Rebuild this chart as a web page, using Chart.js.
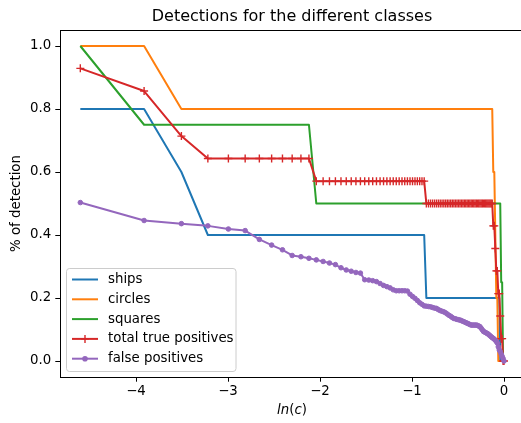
<!DOCTYPE html>
<html>
<head>
<meta charset="utf-8">
<script src="https://cdn.jsdelivr.net/npm/chart.js@4.4.1/dist/chart.umd.min.js"></script>
<style>
  html, body { margin: 0; padding: 0; overflow: hidden; background: #fff; }
  canvas { display: block; }
</style>
</head>
<body>
<canvas id="detChart" width="521" height="423"></canvas>
<script>
// threshold c, plotted as ln(c)
const cValues = [
  0.01, 0.02, 0.03, 0.04, 0.05, 0.06, 0.07, 0.08, 0.09, 0.10,
  0.11, 0.12, 0.13, 0.14, 0.15, 0.16, 0.17, 0.18, 0.19, 0.20,
  0.21, 0.22, 0.23, 0.24, 0.25, 0.26, 0.27, 0.28, 0.29, 0.30,
  0.31, 0.32, 0.33, 0.34, 0.35, 0.36, 0.37, 0.38, 0.39, 0.40,
  0.41, 0.42, 0.43, 0.44, 0.45, 0.46, 0.47, 0.48, 0.49, 0.50,
  0.51, 0.52, 0.53, 0.54, 0.55, 0.56, 0.57, 0.58, 0.59, 0.60,
  0.61, 0.62, 0.63, 0.64, 0.65, 0.66, 0.67, 0.68, 0.69, 0.70,
  0.71, 0.72, 0.73, 0.74, 0.75, 0.76, 0.77, 0.78, 0.79, 0.80,
  0.81, 0.82, 0.83, 0.84, 0.85, 0.86, 0.87, 0.88, 0.89, 0.90,
  0.91, 0.92, 0.93, 0.94, 0.95, 0.96, 0.97, 0.98, 0.99, 1.00
];

const ships = [
  0.8, 0.8, 0.6, 0.4, 0.4, 0.4, 0.4, 0.4, 0.4, 0.4,
  0.4, 0.4, 0.4, 0.4, 0.4, 0.4, 0.4, 0.4, 0.4, 0.4,
  0.4, 0.4, 0.4, 0.4, 0.4, 0.4, 0.4, 0.4, 0.4, 0.4,
  0.4, 0.4, 0.4, 0.4, 0.4, 0.4, 0.4, 0.4, 0.4, 0.4,
  0.4, 0.4, 0.2, 0.2, 0.2, 0.2, 0.2, 0.2, 0.2, 0.2,
  0.2, 0.2, 0.2, 0.2, 0.2, 0.2, 0.2, 0.2, 0.2, 0.2,
  0.2, 0.2, 0.2, 0.2, 0.2, 0.2, 0.2, 0.2, 0.2, 0.2,
  0.2, 0.2, 0.2, 0.2, 0.2, 0.2, 0.2, 0.2, 0.2, 0.2,
  0.2, 0.2, 0.2, 0.2, 0.2, 0.2, 0.2, 0.2, 0.2, 0.2,
  0.2, 0.2, 0.2, 0.2, 0.2, 0.0, 0.0, 0.0, 0.0, 0.0
];

const circles = [
  1.0, 1.0, 0.8, 0.8, 0.8, 0.8, 0.8, 0.8, 0.8, 0.8,
  0.8, 0.8, 0.8, 0.8, 0.8, 0.8, 0.8, 0.8, 0.8, 0.8,
  0.8, 0.8, 0.8, 0.8, 0.8, 0.8, 0.8, 0.8, 0.8, 0.8,
  0.8, 0.8, 0.8, 0.8, 0.8, 0.8, 0.8, 0.8, 0.8, 0.8,
  0.8, 0.8, 0.8, 0.8, 0.8, 0.8, 0.8, 0.8, 0.8, 0.8,
  0.8, 0.8, 0.8, 0.8, 0.8, 0.8, 0.8, 0.8, 0.8, 0.8,
  0.8, 0.8, 0.8, 0.8, 0.8, 0.8, 0.8, 0.8, 0.8, 0.8,
  0.8, 0.8, 0.8, 0.8, 0.8, 0.8, 0.8, 0.8, 0.8, 0.8,
  0.8, 0.8, 0.8, 0.8, 0.8, 0.8, 0.8, 0.8, 0.6, 0.6,
  0.4, 0.2, 0.2, 0.0, 0.0, 0.0, 0.0, 0.0, 0.0, 0.0
];

const squares = [
  1.0, 0.75, 0.75, 0.75, 0.75, 0.75, 0.75, 0.75, 0.75, 0.75,
  0.75, 0.75, 0.5, 0.5, 0.5, 0.5, 0.5, 0.5, 0.5, 0.5,
  0.5, 0.5, 0.5, 0.5, 0.5, 0.5, 0.5, 0.5, 0.5, 0.5,
  0.5, 0.5, 0.5, 0.5, 0.5, 0.5, 0.5, 0.5, 0.5, 0.5,
  0.5, 0.5, 0.5, 0.5, 0.5, 0.5, 0.5, 0.5, 0.5, 0.5,
  0.5, 0.5, 0.5, 0.5, 0.5, 0.5, 0.5, 0.5, 0.5, 0.5,
  0.5, 0.5, 0.5, 0.5, 0.5, 0.5, 0.5, 0.5, 0.5, 0.5,
  0.5, 0.5, 0.5, 0.5, 0.5, 0.5, 0.5, 0.5, 0.5, 0.5,
  0.5, 0.5, 0.5, 0.5, 0.5, 0.5, 0.5, 0.5, 0.5, 0.5,
  0.5, 0.5, 0.5, 0.5, 0.5, 0.5, 0.25, 0.25, 0.0, 0.0
];

const totalTruePositives = [
  0.929, 0.857, 0.714, 0.643, 0.643, 0.643, 0.643, 0.643, 0.643, 0.643,
  0.643, 0.643, 0.571, 0.571, 0.571, 0.571, 0.571, 0.571, 0.571, 0.571,
  0.571, 0.571, 0.571, 0.571, 0.571, 0.571, 0.571, 0.571, 0.571, 0.571,
  0.571, 0.571, 0.571, 0.571, 0.571, 0.571, 0.571, 0.571, 0.571, 0.571,
  0.571, 0.571, 0.5, 0.5, 0.5, 0.5, 0.5, 0.5, 0.5, 0.5,
  0.5, 0.5, 0.5, 0.5, 0.5, 0.5, 0.5, 0.5, 0.5, 0.5,
  0.5, 0.5, 0.5, 0.5, 0.5, 0.5, 0.5, 0.5, 0.5, 0.5,
  0.5, 0.5, 0.5, 0.5, 0.5, 0.5, 0.5, 0.5, 0.5, 0.5,
  0.5, 0.5, 0.5, 0.5, 0.5, 0.5, 0.5, 0.5, 0.429, 0.429,
  0.357, 0.286, 0.286, 0.214, 0.214, 0.143, 0.071, 0.071, 0.0, 0.0
];

const falsePositives = [
  0.503, 0.446, 0.436, 0.429, 0.419, 0.414, 0.386, 0.368, 0.353, 0.335,
  0.331, 0.326, 0.321, 0.316, 0.311, 0.306, 0.296, 0.289, 0.285, 0.281,
  0.279, 0.258, 0.257, 0.255, 0.252, 0.246, 0.240, 0.236, 0.232, 0.226,
  0.223, 0.223, 0.223, 0.223, 0.222, 0.212, 0.205, 0.199, 0.192, 0.185,
  0.180, 0.175, 0.174, 0.173, 0.172, 0.170, 0.168, 0.167, 0.163, 0.160,
  0.158, 0.156, 0.153, 0.149, 0.145, 0.142, 0.138, 0.135, 0.134, 0.132,
  0.131, 0.130, 0.128, 0.126, 0.124, 0.122, 0.120, 0.118, 0.116, 0.114,
  0.114, 0.114, 0.114, 0.114, 0.113, 0.111, 0.109, 0.104, 0.099, 0.094,
  0.092, 0.090, 0.088, 0.086, 0.083, 0.080, 0.077, 0.074, 0.072, 0.069,
  0.066, 0.062, 0.057, 0.045, 0.035, 0.030, 0.022, 0.015, 0.008, 0.000
];

const xTicks = [-4, -3, -2, -1, 0];
const yTicks = [0.0, 0.2, 0.4, 0.6, 0.8, 1.0];
const seriesNames = ['ships', 'circles', 'squares', 'total true positives', 'false positives'];
const seriesColors = ['#1f77b4', '#ff7f0e', '#2ca02c', '#d62728', '#9467bd'];

const FONT = '"DejaVu Sans"';
const FS = 13.33;
Chart.defaults.font.family = FONT;
Chart.defaults.color = '#000';

const lnC = cValues.map(c => Math.log(c));
const toPoints = vals => vals.map((v, i) => ({ x: lnC[i], y: v }));

const minus = v => (v < 0 ? '\u2212' + Math.abs(v) : String(v));

// title, axis labels, top spine and the legend box
const decorations = {
  id: 'decorations',
  afterDraw(chart) {
    const { ctx, chartArea: a } = chart;
    ctx.save();

    // spines run off the right edge like in the cropped original
    ctx.strokeStyle = '#000';
    ctx.lineWidth = 1;
    ctx.beginPath();
    ctx.moveTo(a.left, Math.floor(a.top) + 0.5);
    ctx.lineTo(521, Math.floor(a.top) + 0.5);
    ctx.moveTo(a.right - 1, Math.floor(a.bottom) + 0.5);
    ctx.lineTo(521, Math.floor(a.bottom) + 0.5);
    ctx.stroke();

    const cx = 292;
    ctx.fillStyle = '#000';
    ctx.textBaseline = 'middle';
    ctx.textAlign = 'center';
    ctx.font = '16px ' + FONT;
    ctx.fillText('Detections for the different classes', cx, 17);

    ctx.font = FS + 'px ' + FONT;
    ctx.save();
    ctx.translate(17, 203.5);
    ctx.rotate(-Math.PI / 2);
    ctx.fillText('% of detection', 0, 0);
    ctx.restore();

    // ln(c) in mathtext style
    const parts = [['ln', true], ['(', false], ['c', true], [')', false]];
    let w = 0;
    parts.forEach(p => {
      ctx.font = (p[1] ? 'italic ' : '') + FS + 'px ' + FONT;
      w += ctx.measureText(p[0]).width;
    });
    let x = cx - w / 2;
    ctx.textAlign = 'left';
    parts.forEach(p => {
      ctx.font = (p[1] ? 'italic ' : '') + FS + 'px ' + FONT;
      ctx.fillText(p[0], x, 411);
      x += ctx.measureText(p[0]).width;
    });

    // legend
    const bx = 66.5, by = 268.5, bw = 169.5, bh = 103, r = 3;
    ctx.beginPath();
    ctx.moveTo(bx + r, by);
    ctx.arcTo(bx + bw, by, bx + bw, by + bh, r);
    ctx.arcTo(bx + bw, by + bh, bx, by + bh, r);
    ctx.arcTo(bx, by + bh, bx, by, r);
    ctx.arcTo(bx, by, bx + bw, by, r);
    ctx.closePath();
    ctx.fillStyle = 'rgba(255,255,255,0.8)';
    ctx.fill();
    ctx.strokeStyle = '#cccccc';
    ctx.lineWidth = 1;
    ctx.stroke();

    ctx.font = FS + 'px ' + FONT;
    seriesNames.forEach((name, i) => {
      const y = 279.5 + i * 19.8;
      ctx.strokeStyle = seriesColors[i];
      ctx.lineWidth = 2;
      ctx.beginPath();
      ctx.moveTo(72, y);
      ctx.lineTo(98, y);
      ctx.stroke();
      if (i === 3) {
        ctx.lineWidth = 1.4;
        ctx.beginPath();
        ctx.moveTo(85, y - 4); ctx.lineTo(85, y + 4);
        ctx.moveTo(81, y); ctx.lineTo(89, y);
        ctx.stroke();
      }
      if (i === 4) {
        ctx.fillStyle = seriesColors[i];
        ctx.beginPath();
        ctx.arc(85, y, 2.8, 0, Math.PI * 2);
        ctx.fill();
      }
      ctx.fillStyle = '#000';
      ctx.fillText(name, 108, y);
    });

    ctx.restore();
  }
};

const lineSet = (i, vals, extra) => Object.assign({
  label: seriesNames[i],
  data: toPoints(vals),
  borderColor: seriesColors[i],
  backgroundColor: seriesColors[i],
  borderWidth: 2,
  borderJoinStyle: 'round',
  pointRadius: 0,
  pointHoverRadius: 0,
  order: 5 - i
}, extra || {});

const chart = new Chart(document.getElementById('detChart'), {
  type: 'line',
  data: {
    datasets: [
      lineSet(0, ships),
      lineSet(1, circles),
      lineSet(2, squares),
      lineSet(3, totalTruePositives, {
        pointStyle: 'cross', pointRadius: 4, pointBorderWidth: 1.4,
        pointBorderColor: seriesColors[3]
      }),
      lineSet(4, falsePositives, {
        pointStyle: 'circle', pointRadius: 2.3, pointBorderWidth: 1,
        pointBorderColor: seriesColors[4], pointBackgroundColor: seriesColors[4]
      })
    ]
  },
  options: {
    responsive: false,
    animation: false,
    devicePixelRatio: 1,
    layout: { padding: { top: 30, right: 0, left: 0, bottom: 0 } },
    plugins: {
      legend: { display: false },
      tooltip: { enabled: false },
      title: { display: false }
    },
    scales: {
      x: {
        type: 'linear',
        min: -4.835,
        max: 0.1848,
        afterBuildTicks: s => { s.ticks = xTicks.map(v => ({ value: v })); },
        afterFit: s => { s.height = 46; },
        grid: { display: true, drawOnChartArea: false, tickLength: 4.7, color: '#000', tickWidth: 1 },
        border: { display: true, color: '#000', width: 1 },
        ticks: { font: { size: FS }, color: '#000', padding: 2, maxRotation: 0, callback: v => minus(v) }
      },
      y: {
        min: -0.05,
        max: 1.05,
        afterBuildTicks: s => { s.ticks = yTicks.map(v => ({ value: v })); },
        afterFit: s => { s.width = 60; },
        grid: { display: true, drawOnChartArea: false, tickLength: 4.7, color: '#000', tickWidth: 1 },
        border: { display: true, color: '#000', width: 1 },
        ticks: { font: { size: FS }, color: '#000', padding: 4, callback: v => v.toFixed(1) }
      }
    }
  },
  plugins: [decorations]
});

// pin the axes to the reference scale: x 0 at 504px, 92px per unit; y 0 at 361px, 315px per unit
const area = chart.chartArea;
chart.options.scales.x.min = (area.left - 504) / 92;
chart.options.scales.x.max = (area.right - 504) / 92;
chart.options.scales.y.min = (361 - area.bottom) / 315;
chart.options.scales.y.max = (361 - area.top) / 315;
chart.update();
</script>
</body>
</html>
